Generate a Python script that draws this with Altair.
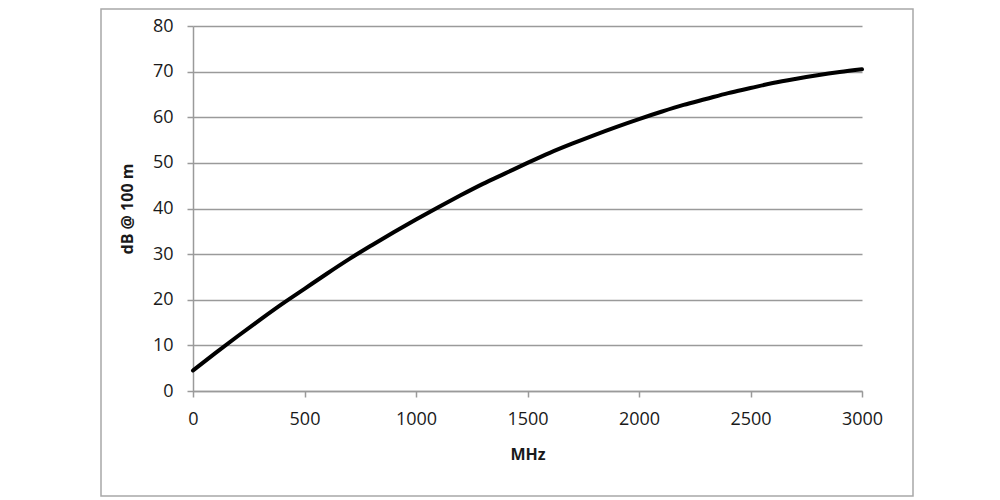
import altair as alt
import pandas as pd

mhz = [0, 100, 200, 300, 400, 500, 600, 700, 800, 900, 1000, 1100, 1200, 1300, 1400, 1500,
       1600, 1700, 1800, 1900, 2000, 2100, 2200, 2300, 2400, 2500, 2600, 2700, 2800, 2900, 3000]
db = [4.5, 8.3, 12.0, 15.6, 19.1, 22.4, 25.7, 28.9, 31.9, 34.8, 37.6, 40.3, 42.9, 45.4, 47.7, 50.0,
      52.2, 54.2, 56.1, 57.9, 59.6, 61.2, 62.7, 64.0, 65.3, 66.4, 67.5, 68.4, 69.2, 69.9, 70.5]

df = pd.DataFrame({"MHz": mhz, "dB": db})

FONT = "Open Sans"
GRAY = "#9a9a9a"
TXT = "#1a1a1a"

line = alt.Chart(df).mark_line(color="black", strokeWidth=4, strokeCap="round",
                               interpolate="monotone").encode(
    x=alt.X("MHz:Q", scale=alt.Scale(domain=[0, 3000], nice=False),
            axis=alt.Axis(title="MHz", values=[0, 500, 1000, 1500, 2000, 2500, 3000],
                          format="d", labelFlush=False,
                          grid=False, domainColor=GRAY, domainWidth=1.5, tickColor=GRAY,
                          tickWidth=1.5, tickSize=6, labelPadding=13, labelFont=FONT,
                          labelFontSize=18, labelColor=TXT, titleFont=FONT,
                          titleFontSize=16, titleFontWeight="bold", titleColor=TXT,
                          titlePadding=18)),
    y=alt.Y("dB:Q", scale=alt.Scale(domain=[0, 80], nice=False),
            axis=alt.Axis(title="dB @ 100 m", values=[0, 10, 20, 30, 40, 50, 60, 70, 80],
                          format="d", labelFlush=False,
                          grid=True, gridColor=GRAY, gridWidth=1.5, domainColor=GRAY,
                          domainWidth=1.5, tickColor=GRAY, tickWidth=1.5, tickSize=6,
                          labelPadding=14, labelFont=FONT, labelFontSize=18,
                          labelColor=TXT, titleFont=FONT, titleFontSize=16,
                          titleFontWeight="bold", titleColor=TXT, titlePadding=17)),
)

border = alt.Chart(pd.DataFrame({"a": [0]})).mark_rect(
    fill=None, stroke="#a8a8a8", strokeWidth=1.5, clip=False
).encode(
    x=alt.value(-92), x2=alt.value(720), y=alt.value(-17), y2=alt.value(470)
)

chart = alt.layer(border, line).properties(
    width=669, height=365,
    autosize=alt.AutoSizeParams(type="none"),
    padding={"left": 185, "top": 18, "right": 70, "bottom": 107},
).configure_view(stroke=None)

chart.save("out.html", embed_options={"renderer": "svg", "actions": False})
